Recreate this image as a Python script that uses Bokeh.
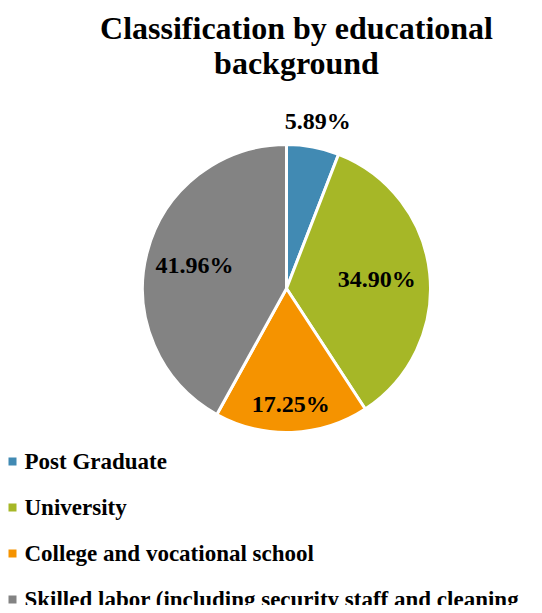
import numpy as np
from bokeh.plotting import figure
from bokeh.models import Range1d
from bokeh.embed import file_html
from bokeh.resources import INLINE
from bokeh.core.properties import value

# ---- data ----
categories = ["Post Graduate", "University", "College and vocational school",
              "Skilled labor (including security staff and cleaning"]
shares = [5.89, 34.90, 17.25, 41.96]
labels = ["5.89%", "34.90%", "17.25%", "41.96%"]
colors = ["#418AB3", "#A6B727", "#F59300", "#838383"]
title_lines = ["Classification by educational", "background"]

# ---- layout (x = picture x, y = H - picture y) ----
W, H = 534, 605
FONT = value("Liberation Serif")
cx, cy, R = 286, H - 288, 144
label_dist = [1.18, 0.63, 0.80, 0.66]

p = figure(width=W, height=H, x_range=Range1d(0, W), y_range=Range1d(0, H),
           output_backend="svg", toolbar_location=None, min_border=0)
p.axis.visible = False
p.grid.visible = False
p.outline_line_color = None
p.background_fill_color = "white"
p.border_fill_color = "white"

frac = np.array(shares) / sum(shares)
cum = np.concatenate([[0], np.cumsum(frac)]) * 2 * np.pi
start = np.pi / 2 - cum[:-1]
end = np.pi / 2 - cum[1:]
p.wedge(x=cx, y=cy, radius=R, start_angle=start, end_angle=end, direction="clock",
        fill_color=colors, line_color="white", line_width=3)

mid = (start + end) / 2
lx = cx + np.array(label_dist) * R * np.cos(mid)
ly = cy + np.array(label_dist) * R * np.sin(mid)
p.text(x=lx, y=ly, text=labels, text_font=FONT, text_font_style="bold",
       text_font_size="24px", text_align="center", text_baseline="middle",
       text_color="black")

# title
p.text(x=[296, 296], y=[H - 27, H - 62], text=title_lines, text_font=FONT,
       text_font_style="bold", text_font_size="32px", text_align="center",
       text_baseline="middle", text_color="black")

# legend
ly0 = H - (461 + 46 * np.arange(len(categories)))
p.scatter(x=[12] * len(categories), y=ly0, marker="square", size=8,
          fill_color=colors, line_color=None)
p.text(x=[24] * len(categories), y=ly0, text=categories, text_font=FONT,
       text_font_style="bold", text_font_size="23px", text_align="left",
       text_baseline="middle", text_color="black")

open("out.html", "w").write(file_html(p, INLINE))
